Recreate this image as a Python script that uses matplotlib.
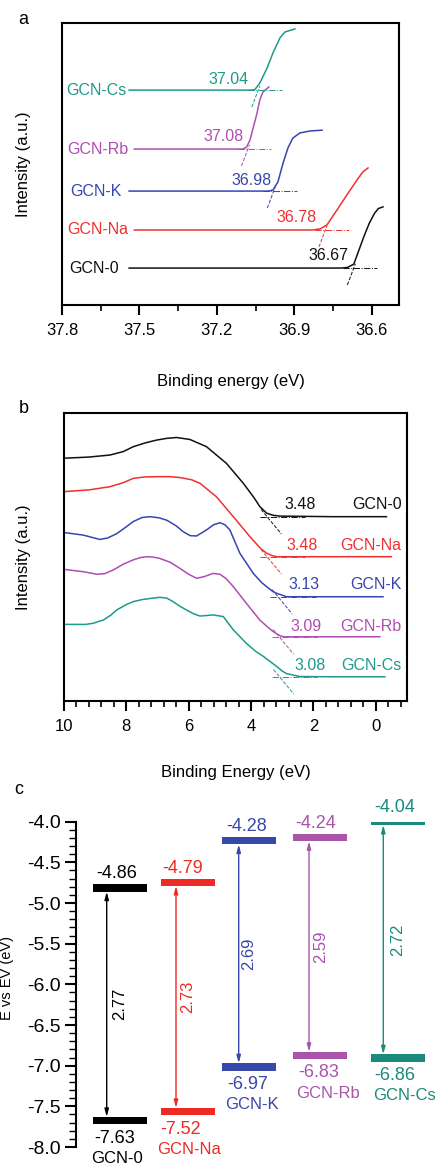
import matplotlib
matplotlib.use('Agg')
import matplotlib.pyplot as plt
from matplotlib.ticker import MultipleLocator

plt.rcParams['font.family'] = ['Liberation Sans', 'DejaVu Sans']

samples = ['GCN-0', 'GCN-Na', 'GCN-K', 'GCN-Rb', 'GCN-Cs']
colors_a = ['#111111', '#f03030', '#3546b0', '#b04cb4', '#1e9a8c']
colors_c = ['#000000', '#ee2a24', '#3848a8', '#a855aa', '#1a8a7c']

# ---- panel a: secondary electron cutoff ----
cutoff = [36.67, 36.78, 36.98, 37.08, 37.04]
a_energy = [
    [37.54, 36.72, 36.695, 36.67, 36.65, 36.63, 36.61, 36.59, 36.575, 36.557],
    [37.52, 36.83, 36.80, 36.774, 36.735, 36.697, 36.658, 36.635, 36.615],
    [37.54, 37.00, 36.983, 36.964, 36.944, 36.925, 36.906, 36.879, 36.84, 36.793],
    [37.52, 37.10, 37.085, 37.072, 37.06, 37.045, 37.034, 37.022, 36.999],
    [37.54, 37.07, 37.053, 37.034, 37.006, 36.983, 36.956, 36.937, 36.898],
]
a_intensity = [
    [1.31, 1.31, 1.33, 1.45, 1.95, 2.45, 2.90, 3.25, 3.42, 3.48],
    [2.66, 2.66, 2.70, 2.84, 3.37, 3.90, 4.43, 4.72, 4.86],
    [4.04, 4.04, 4.08, 4.36, 5.03, 5.57, 5.92, 6.10, 6.17, 6.20],
    [5.53, 5.53, 5.60, 5.85, 6.27, 6.80, 7.27, 7.55, 7.73],
    [7.62, 7.62, 7.64, 7.87, 8.40, 8.94, 9.47, 9.68, 9.79],
]

# ---- panel b: valence band spectra ----
vb_onset = [3.48, 3.48, 3.13, 3.09, 3.08]
b_energy = [
    [10.0, 9.2, 8.53, 8.1, 7.78, 7.4, 7.03, 6.7, 6.39, 5.96, 5.43, 4.79, 4.25, 3.90,
     3.72, 3.50, 3.30, 3.08, 1.37, -0.34],
    [10.0, 9.2, 8.53, 8.1, 7.78, 7.4, 6.93, 6.6, 6.29, 5.9, 5.64, 5.11, 4.57, 4.04,
     3.70, 3.50, 3.30, 3.18, 1.37, -0.50],
    [10.0, 9.38, 9.1, 8.85, 8.6, 8.31, 8.0, 7.78, 7.5, 7.24, 6.95, 6.71, 6.4, 6.18,
     5.95, 5.75, 5.58, 5.43, 5.2, 5.00, 4.84, 4.68, 4.36, 3.93, 3.65, 3.50, 3.30,
     3.18, 2.86, 1.37, -0.23],
    [10.0, 9.38, 8.95, 8.7, 8.42, 8.1, 7.78, 7.55, 7.35, 7.15, 6.93, 6.6, 6.29, 6.0,
     5.75, 5.5, 5.22, 5.00, 4.80, 4.57, 4.15, 3.72, 3.45, 3.29, 3.10, 2.97, 1.37, -0.13],
    [10.0, 9.3, 9.06, 8.9, 8.74, 8.5, 8.31, 8.0, 7.78, 7.5, 7.24, 6.93, 6.70, 6.50,
     6.30, 6.07, 5.85, 5.64, 5.40, 5.22, 5.05, 4.89, 4.57, 4.15, 3.85, 3.61, 3.40,
     3.18, 3.00, 2.86, 2.44, 1.37, -0.29],
]
b_intensity = [
    [8.43, 8.47, 8.54, 8.66, 8.83, 8.96, 9.06, 9.12, 9.15, 9.08, 8.83, 8.25, 7.56,
     7.05, 6.75, 6.52, 6.45, 6.42, 6.40, 6.40],
    [7.27, 7.33, 7.44, 7.58, 7.73, 7.78, 7.79, 7.79, 7.76, 7.68, 7.56, 7.09, 6.40,
     5.71, 5.30, 5.13, 5.04, 5.01, 5.01, 5.01],
    [5.85, 5.76, 5.68, 5.61, 5.66, 5.81, 6.05, 6.23, 6.37, 6.40, 6.36, 6.28, 6.08,
     5.88, 5.74, 5.73, 5.84, 5.94, 6.12, 6.19, 6.12, 5.94, 5.13, 4.43, 4.10, 3.97,
     3.80, 3.74, 3.62, 3.62, 3.62],
    [4.57, 4.49, 4.40, 4.42, 4.55, 4.75, 4.90, 4.98, 5.01, 5.00, 4.95, 4.82, 4.61,
     4.40, 4.26, 4.32, 4.43, 4.40, 4.25, 3.97, 3.39, 2.81, 2.55, 2.41, 2.28, 2.23,
     2.23, 2.23],
    [2.66, 2.66, 2.70, 2.76, 2.81, 2.98, 3.16, 3.35, 3.45, 3.52, 3.56, 3.60, 3.57,
     3.45, 3.30, 3.16, 3.03, 2.95, 2.97, 2.99, 2.96, 2.93, 2.47, 2.00, 1.72, 1.55,
     1.38, 1.20, 1.04, 0.95, 0.85, 0.84, 0.84],
]

# ---- panel c: band alignment ----
cb = [-4.86, -4.79, -4.28, -4.24, -4.04]
vb = [-7.63, -7.52, -6.97, -6.83, -6.86]
gap = [2.77, 2.73, 2.69, 2.59, 2.72]

W, H = 439, 1167
fig = plt.figure(figsize=(W / 100, H / 100), dpi=100)


def box(l, t, r, b):
    return [l / W, 1 - b / H, (r - l) / W, (b - t) / H]


def style_box(ax, major, minor):
    for s in ax.spines.values():
        s.set_linewidth(1.5)
    ax.tick_params(axis='x', which='major', direction='out', length=7, width=1.5,
                   labelsize=12, top=False, pad=6)
    ax.tick_params(axis='x', which='minor', direction='out', length=4, width=1.2, top=False)
    ax.xaxis.set_major_locator(MultipleLocator(major))
    ax.xaxis.set_minor_locator(MultipleLocator(minor))
    ax.set_yticks([])


# panel a
ax1 = fig.add_axes(box(62, 23, 399, 305))
for i in range(5):
    c = colors_a[i]
    ax1.plot(a_energy[i], a_intensity[i], color=c, lw=1.1)
    base = a_intensity[i][0]
    ax1.plot([cutoff[i] + 0.04, cutoff[i] - 0.09], [base, base], color=c, lw=0.7, ls='-.')
    ax1.plot([cutoff[i] + 0.025, cutoff[i] - 0.006], [base - 0.6, base + 0.15],
             color=c, lw=0.7, ls='--')
label_a_x = [37.676, 37.661, 37.668, 37.661, 37.665]
val_a_xy = [(36.770, 1.77), (36.890, 3.09), (37.065, 4.43), (37.173, 5.99), (37.154, 7.98)]
for i in range(5):
    ax1.text(label_a_x[i], a_intensity[i][0], samples[i], color=colors_a[i],
             fontsize=11.5, ha='center', va='center')
    ax1.text(val_a_xy[i][0], val_a_xy[i][1], '%.2f' % cutoff[i], color=colors_a[i],
             fontsize=11.5, ha='center', va='center')
ax1.set_xlim(37.8, 36.495)
ax1.set_ylim(0, 10)
style_box(ax1, 0.3, 0.15)
ax1.set_xlabel('Binding energy (eV)', fontsize=12, labelpad=26)
ax1.set_ylabel('Intensity (a.u.)', fontsize=12, labelpad=22)
fig.text(23 / W, 1 - 20 / H, 'a', fontsize=13, ha='center', va='center')

# panel b
ax2 = fig.add_axes(box(64, 413, 407, 701))
for i in range(5):
    c = colors_a[i]
    ax2.plot(b_energy[i], b_intensity[i], color=c, lw=1.1)
    base = b_intensity[i][-1]
    ax2.plot([vb_onset[i] + 0.25, vb_onset[i] - 1.2], [base, base], color=c, lw=0.7, ls='-.')
    ax2.plot([vb_onset[i] + 0.2, vb_onset[i] - 0.45], [base + 0.25, base - 0.6],
             color=c, lw=0.7, ls='--')
val_b_x = [2.44, 2.35, 2.30, 2.25, 2.10]
label_b_y = [6.81, 5.39, 4.03, 2.60, 1.25]
for i in range(5):
    ax2.text(val_b_x[i], label_b_y[i], '%.2f' % vb_onset[i], color=colors_a[i],
             fontsize=11.5, ha='center', va='center')
    ax2.text(-0.82, label_b_y[i], samples[i], color=colors_a[i],
             fontsize=11.5, ha='right', va='center')
ax2.set_xlim(10, -1)
ax2.set_ylim(0, 10)
style_box(ax2, 2, 0.4)
ax2.set_xlabel('Binding Energy (eV)', fontsize=12, labelpad=22)
ax2.set_ylabel('Intensity (a.u.)', fontsize=12, labelpad=24)
fig.text(24 / W, 1 - 409 / H, 'b', fontsize=13, ha='center', va='center')

# panel c
ax3 = fig.add_axes(box(76, 821.7, 439, 1147))
bar_x = [43.7, 111.8, 172.8, 244.5, 321.8]
arrow_x = [30.7, 100.0, 162.7, 233.0, 307.3]
cb_lab_x = [40.7, 106.7, 170.7, 240.0, 318.3]
vb_lab_x = [38.3, 105.0, 171.3, 242.3, 319.0]
name_x = [40.7, 113.0, 176.3, 251.7, 328.3]
for i in range(5):
    c = colors_c[i]
    ax3.bar(bar_x[i], 0.09, width=54, bottom=cb[i], color=c)
    ax3.bar(bar_x[i], -0.09, width=54, bottom=vb[i], color=c)
    ax3.annotate('', xy=(arrow_x[i], cb[i]), xytext=(arrow_x[i], vb[i]),
                 arrowprops=dict(arrowstyle='<|-|>,head_length=0.45,head_width=0.12',
                                 color=c, lw=1.0, shrinkA=0, shrinkB=0))
    ax3.text(bar_x[i], (cb[i] + vb[i]) / 2, '%.2f' % gap[i], color=c, fontsize=12,
             rotation=90, ha='center', va='center')
    ax3.text(cb_lab_x[i], cb[i] + 0.22, '%.2f' % cb[i], color=c, fontsize=13,
             ha='center', va='center', clip_on=False)
    ax3.text(vb_lab_x[i], vb[i] - 0.26, '%.2f' % vb[i], color=c, fontsize=13,
             ha='center', va='center', clip_on=False)
    ax3.text(name_x[i], vb[i] - 0.51, samples[i], color=c, fontsize=12,
             ha='center', va='center', clip_on=False)
ax3.set_xlim(0, 363)
ax3.set_ylim(-8.0, -4.0)
for s in ['top', 'right', 'bottom']:
    ax3.spines[s].set_visible(False)
ax3.spines['left'].set_linewidth(1.5)
ax3.set_xticks([])
ax3.yaxis.set_major_locator(MultipleLocator(0.5))
ax3.yaxis.set_minor_locator(MultipleLocator(0.1))
ax3.yaxis.set_major_formatter(matplotlib.ticker.FormatStrFormatter('%.1f'))
ax3.tick_params(axis='y', which='major', direction='out', length=8, width=1.5,
                labelsize=14, pad=3)
ax3.tick_params(axis='y', which='minor', direction='out', length=5, width=1.0)
ax3.set_ylabel('E vs EV (eV)', fontsize=10.5)
ax3.yaxis.set_label_coords(-0.172, 0.52)
fig.text(19 / W, 1 - 789 / H, 'c', fontsize=13, ha='center', va='center')

fig.savefig('out.png', dpi=100)
